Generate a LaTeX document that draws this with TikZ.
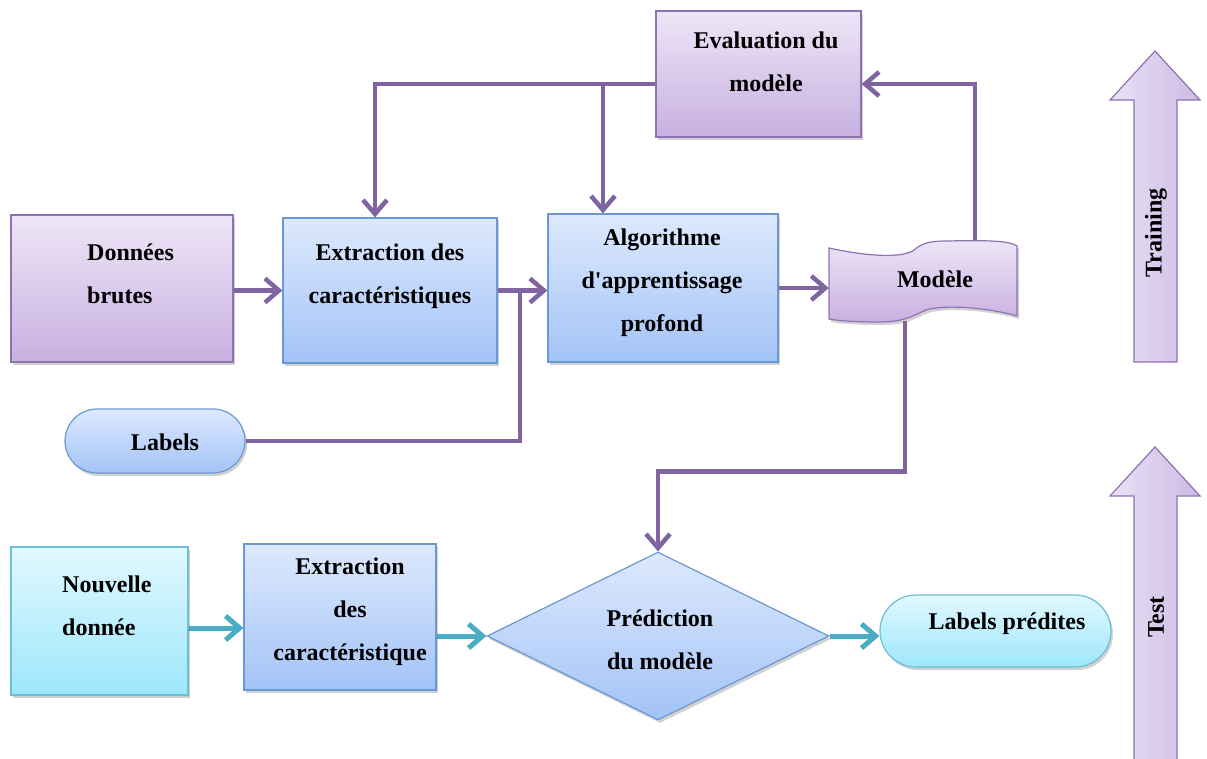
\documentclass[tikz,border=0pt]{standalone}
\usepackage{fontspec}
\setmainfont{Liberation Serif}
\usetikzlibrary{arrows.meta,shapes.geometric,shadows,backgrounds,calc}

\definecolor{purpleLine}{RGB}{128,100,162}
\definecolor{tealLine}{RGB}{75,172,198}
\definecolor{purpleTop}{RGB}{238,230,247}
\definecolor{purpleBot}{RGB}{200,176,224}
\definecolor{purpleEdge}{RGB}{141,115,178}
\definecolor{blueTop}{RGB}{221,233,253}
\definecolor{blueBot}{RGB}{163,195,247}
\definecolor{blueEdge}{RGB}{106,152,210}
\definecolor{cyanTop}{RGB}{226,248,255}
\definecolor{cyanBot}{RGB}{157,231,251}
\definecolor{cyanEdge}{RGB}{106,192,214}
\definecolor{phaseLeft}{RGB}{234,226,246}
\definecolor{phaseRight}{RGB}{204,186,228}

\tikzset{
  softshadow/.style={drop shadow={shadow xshift=2pt,shadow yshift=-3pt,opacity=0.3,fill=black!60}},
  boxbase/.style={draw, line width=1.2pt, inner sep=0pt, softshadow},
  pbox/.style={boxbase, rectangle, draw=purpleEdge, top color=purpleTop, bottom color=purpleBot},
  bbox/.style={boxbase, rectangle, draw=blueEdge, top color=blueTop, bottom color=blueBot},
  cbox/.style={boxbase, rectangle, draw=cyanEdge, top color=cyanTop, bottom color=cyanBot},
  txt/.style={font=\fontsize{24}{43}\selectfont\bfseries, align=center, inner sep=0pt},
  pline/.style={draw=purpleLine, line width=4.5pt},
  parr/.style={pline, -{Straight Barb[length=14pt,width=24pt]}},
  tline/.style={draw=tealLine, line width=5pt},
  tarr/.style={tline, -{Straight Barb[length=14pt,width=24pt]}},
  tape/.style={draw=purpleEdge, line width=1.2pt, top color=purpleTop, bottom color=purpleBot},
  phase/.style={draw=purpleEdge, line width=1.2pt, left color=phaseLeft, right color=phaseRight}
}

\begin{document}
\begin{tikzpicture}[x=1pt,y=-1pt]
\useasboundingbox (0,0) rectangle (1207,758);

% ---------- training part ----------
\node[pbox, minimum width=222pt, minimum height=147pt] (donnees) at (122,288.5) {};
\node[txt, align=left, anchor=west] (donneesTxt) at (87,274) {Données\\brutes};

\node[bbox, minimum width=214pt, minimum height=145pt] (extr1) at (390,290.5) {};
\node[txt] (extr1Txt) at (390,276) {Extraction des\\caractéristiques};

\node[bbox, minimum width=230pt, minimum height=148pt] (algo) at (663,288) {};
\node[txt] (algoTxt) at (662,283) {Algorithme\\d\textquotesingle apprentissage\\profond};

\node[pbox, minimum width=205pt, minimum height=126pt] (eval) at (758.5,74) {};
\node[txt] (evalTxt) at (766,62) {Evaluation du\\modèle};

\node[bbox, minimum width=180pt, minimum height=64pt, rounded corners=32pt] (labels) at (155,441) {};
\node[txt] (labelsTxt) at (165,442) {Labels};

% stored model: wavy tape outline around a plain anchor node
\node[minimum width=188pt, minimum height=80pt, inner sep=0pt] (modele) at (923,283) {};
\path[tape, softshadow]
  (829,248) .. controls (870,257) and (903,258) .. (914,250)
  .. controls (922,243) and (930,241) .. (947,241)
  .. controls (990,240) and (1010,241) .. (1017,246)
  -- (1017,316)
  .. controls (990,308) and (945,304) .. (926,310)
  .. controls (914,315) and (905,322) .. (880,322)
  .. controls (855,322) and (840,321) .. (829,319) -- cycle;
\node[txt] (modeleTxt) at (935,279) {Modèle};

% ---------- test part ----------
\node[cbox, minimum width=177pt, minimum height=148pt] (nouv) at (99.5,621) {};
\node[txt, align=left, anchor=west] (nouvTxt) at (62,606) {Nouvelle\\donnée};

\node[bbox, minimum width=192pt, minimum height=146pt] (extr2) at (340,617) {};
\node[txt] (extr2Txt) at (350,612) {Extraction\\des\\caractéristique};

\node[boxbase, diamond, draw=blueEdge, top color=blueTop, bottom color=blueBot,
      minimum width=342pt, minimum height=168pt] (pred) at (658,636) {};
\node[txt] (predTxt) at (660,640) {Prédiction\\du modèle};

\node[cbox, minimum width=231pt, minimum height=72pt, rounded corners=36pt] (labp) at (995.5,631) {};
\node[txt] (labpTxt) at (1007,624) {Labels prédites};

% ---------- phase arrows ----------
\path[phase] (1134,362) -- (1134,100) -- (1110,100) -- (1155,51) -- (1200,100)
  -- (1177,100) -- (1177,362) -- cycle;
\node[txt, rotate=90] (trainTxt) at (1156,233) {Training};
\path[phase] (1134,760) -- (1134,496) -- (1110,496) -- (1155,447) -- (1200,496)
  -- (1177,496) -- (1177,760) -- cycle;
\node[txt, rotate=90] (testTxt) at (1156,617) {Test};

% ---------- connectors ----------
\coordinate (evalOut) at ([yshift=-10pt]eval.west);
\coordinate (evalIn) at ([yshift=-10pt]eval.east);
\coordinate (extr1In) at ([xshift=-15pt]extr1.north);
\coordinate (algoIn) at ([xshift=-60pt]algo.north);
\coordinate (modTop) at ([xshift=52pt,yshift=-2pt]modele.north);
\coordinate (modBot) at ([xshift=-18pt,yshift=2pt]modele.south);
\coordinate (join) at ($(extr1.east)!0.45!(algo.west)$);
\coordinate (nouvOut) at ([yshift=-7pt]nouv.east);

\begin{scope}[on background layer]
  \draw[parr] (donnees.east |- extr1.west) -- (extr1.west);
  \draw[parr] (extr1.east) -- (extr1.east -| algo.west);
  \draw[pline] (labels.east) -| (join);
  \draw[parr] (evalOut) -| (extr1In);
  \draw[parr] (algoIn |- evalOut) -- (algoIn);
  \draw[parr] (algo.east) -- (algo.east -| modele.west);
  \draw[parr] (modTop) |- (evalIn);
  \draw[parr] (modBot) |- ([yshift=80pt]pred.north) -- (pred.north);
  \draw[tarr] (nouvOut) -- (nouvOut -| extr2.west);
  \draw[tarr] (extr2.east |- pred.west) -- (pred.west);
  \draw[tarr] (pred.east) -- (pred.east -| labp.west);
\end{scope}
\end{tikzpicture}
\end{document}
